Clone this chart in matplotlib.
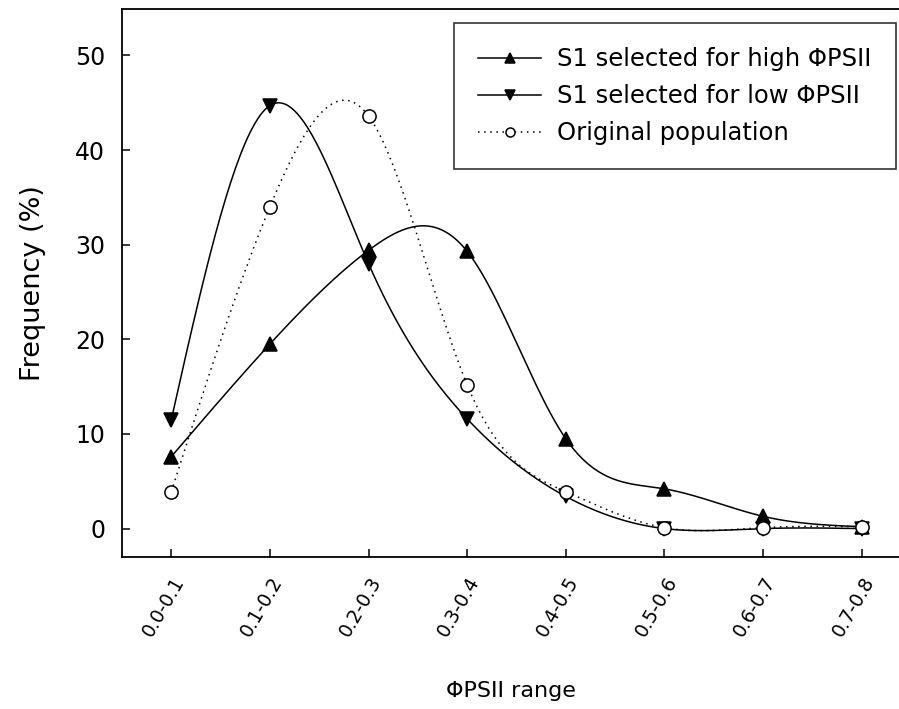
import numpy as np
import matplotlib
matplotlib.use("Agg")
import matplotlib.pyplot as plt

plt.rcParams['font.family'] = ['DejaVu Sans']

ranges = ["0.0-0.1", "0.1-0.2", "0.2-0.3", "0.3-0.4",
          "0.4-0.5", "0.5-0.6", "0.6-0.7", "0.7-0.8"]
high_psii = [7.6, 19.5, 29.4, 29.3, 9.5, 4.2, 1.3, 0.2]
low_psii = [11.5, 44.7, 28.0, 11.6, 3.4, 0.0, 0.0, 0.0]
original = [3.9, 34.0, 43.6, 15.2, 3.9, 0.1, 0.1, 0.2]


def spline(y, n=40):
    # natural cubic spline through equally spaced points, for the drawn curve
    y = np.asarray(y, float)
    k = len(y)
    A = np.zeros((k, k))
    b = np.zeros(k)
    A[0, 0] = A[-1, -1] = 1
    for i in range(1, k - 1):
        A[i, i - 1], A[i, i], A[i, i + 1] = 1, 4, 1
        b[i] = 6 * (y[i + 1] - 2 * y[i] + y[i - 1])
    m = np.linalg.solve(A, b)
    xs, ys = [], []
    for i in range(k - 1):
        t = np.linspace(0, 1, n, endpoint=(i == k - 2))
        seg = ((1 - t) * y[i] + t * y[i + 1]
               + ((1 - t) ** 3 - (1 - t)) * m[i] / 6
               + (t ** 3 - t) * m[i + 1] / 6)
        xs.append(i + t)
        ys.append(seg)
    return np.concatenate(xs), np.concatenate(ys)


x = np.arange(len(ranges))
fig = plt.figure(figsize=(8.99, 7.09), dpi=100)
ax = fig.add_axes([0.1357, 0.2144, 0.8643, 0.7729])

styles = [
    (high_psii, '^', 'black', 10, 7.5, '-', "S1 selected for high \u03a6PSII"),
    (low_psii, 'v', 'black', 10, 7.5, '-', "S1 selected for low \u03a6PSII"),
    (original, 'o', 'white', 9.5, 6.5, (0, (1, 3)), "Original population"),
]
handles = []
for vals, mk, fc, ms, lms, ls, lab in styles:
    sx, sy = spline(vals)
    ax.plot(sx, sy, color='black', lw=1.1, ls=ls)
    ax.plot(x, vals, ls='none', marker=mk, mfc=fc, mec='black', ms=ms, mew=1.1)
    h, = ax.plot([], [], color='black', lw=1.1, ls=ls, marker=mk, mfc=fc,
                 mec='black', ms=lms, mew=1.1, label=lab)
    handles.append(h)

ax.set_xlim(-0.5, 7.38)
ax.set_ylim(-3, 54.9)
ax.set_yticks([0, 10, 20, 30, 40, 50])
ax.set_xticks(x)
ax.set_xticklabels(ranges, rotation=60, ha='right', va='top',
                   rotation_mode='anchor')
ax.tick_params(direction='in', length=6, width=1.1, colors='black')
ax.tick_params(axis='y', labelsize=17, pad=12)
ax.tick_params(axis='x', labelsize=13.5, pad=12)
ax.spines['right'].set_visible(False)
for s in ['left', 'bottom', 'top']:
    ax.spines[s].set_linewidth(1.3)

ax.set_ylabel("Frequency (%)", fontsize=19.5)
ax.yaxis.set_label_coords(-0.098, 0.5)
ax.set_xlabel("\u03a6PSII range", fontsize=16)
ax.xaxis.set_label_coords(0.5, -0.226)

leg = ax.legend(handles=handles, loc='upper right',
                bbox_to_anchor=(0.9961, 0.9745), borderaxespad=0,
                fontsize=17.5, frameon=True, fancybox=False,
                edgecolor='black', handlelength=2.6, borderpad=1.0,
                labelspacing=0.53, handletextpad=0.65)
leg.get_frame().set_linewidth(1.2)

fig.savefig("out.png", dpi=100)
